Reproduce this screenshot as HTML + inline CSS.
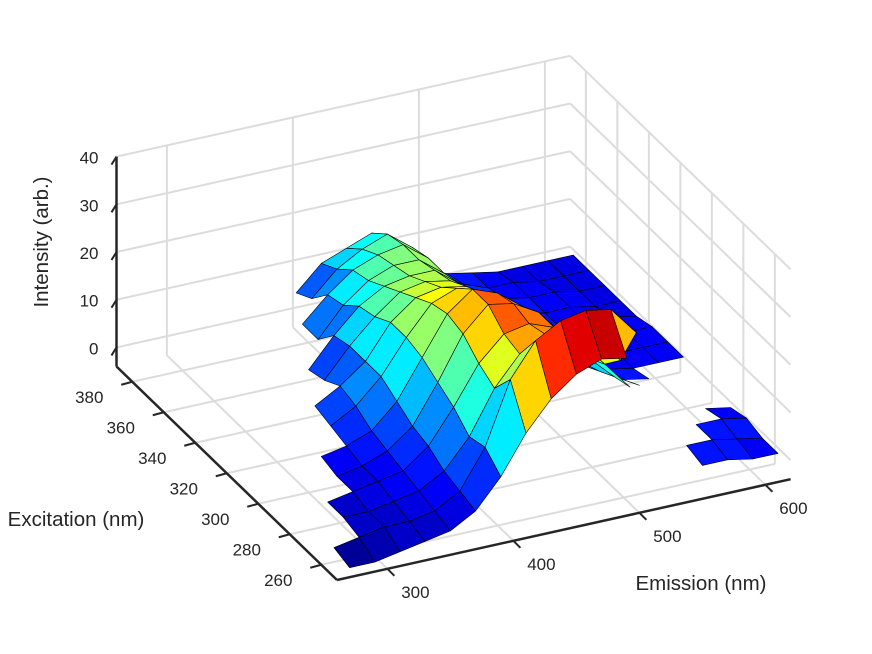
<!DOCTYPE html>
<html>
<head>
<meta charset="utf-8">
<style>
  html, body { margin: 0; padding: 0; background: #ffffff; }
  svg { display: block; }
  text { font-family: "Liberation Sans", Arial, sans-serif; fill: #262626; }
</style>
</head>
<body>
<svg id="chart" width="872" height="654" viewBox="0 0 872 654" xmlns="http://www.w3.org/2000/svg">
  <rect x="0" y="0" width="872" height="654" fill="#ffffff"/>
  <g id="grid"></g>
  <g id="axes"></g>
  <g id="surface"></g>
  <g id="labels"></g>
  <text x="48" y="242" font-size="20.5" text-anchor="middle" transform="rotate(-90 48 242)">Intensity (arb.)</text>
  <text x="76" y="526" font-size="20.5" text-anchor="middle">Excitation (nm)</text>
  <text x="701" y="590" font-size="20.5" text-anchor="middle">Emission (nm)</text>
</svg>
<script>
// ---- data ----
const emission = [270,290,310,330,350,370,390,410,430,450,470,490,510,530,550,570,590,610];
const excitation = [250,260,270,280,290,300,310,320,330,340,350,360,370,380];
const n = null;
const intensity = [
  [-2,-2,-1,0,1,4,10,18,24,28,30,29,n,n,3,3,2,2],
  [-1,0,1,1,2,5,13,26,33,36,37,36,30,n,4,4,3,2],
  [n,1,1,2,3,6,12,21,27,30,29,27,21,n,n,4,4,3],
  [n,1,2,3,4,8,15,23,28,29,27,23,17,11,n,n,3,2],
  [n,n,2,3,5,9,17,26,31,30,27,21,15,10,7,n,n,2],
  [n,n,3,4,6,11,19,27,31,29,25,18,12,8,5,4,n,n],
  [n,n,n,5,8,13,20,26,28,26,21,14,9,6,4,3,3,3],
  [n,n,n,6,9,13,20,24,25,24,19,12,7,5,3,3,3,3],
  [n,n,n,n,7,13,18,22,23,22,18,11,6,4,3,3,3,3],
  [n,n,n,n,6,12,17,20,21,21,17,10,6,4,3,3,3,2],
  [n,n,n,n,n,8,14,18,20,20,16,10,6,4,3,3,2,2],
  [n,n,n,n,n,8,13,17,19,20,16,9,5,4,3,3,2,2],
  [n,n,n,n,n,n,9,14,17,19,15,8,5,3,3,2,2,2],
  [n,n,n,n,n,n,7,12,14,16,12,6,4,3,2,2,2,2]
];
const colorLimits = [-2, 40];
const zTicks = [0,10,20,30,40];
const emTicks = [300,400,500,600];
const exTicks = [260,280,300,320,340,360,380];

// ---- axes / projection ----
const EM0 = 260, EM1 = 620, EX0 = 250, EX1 = 390, ZMIN = -4, ZMAX = 40;
function P(em, ex, z) {
  return [337 + (em - EM0) * 1.26 - (ex - EX0) * 1.575,
          580 - (em - EM0) * 0.28 - (ex - EX0) * 1.525 - (z - ZMIN) * 4.77];
}
const NS = 'http://www.w3.org/2000/svg';
function mk(tag, attrs, parent) {
  const el = document.createElementNS(NS, tag);
  for (const k in attrs) el.setAttribute(k, attrs[k]);
  parent.appendChild(el);
  return el;
}
function line(a, b, stroke, w, parent) {
  return mk('line', {x1: a[0], y1: a[1], x2: b[0], y2: b[1], stroke: stroke, 'stroke-width': w}, parent);
}
const grid = document.getElementById('grid');
const axes = document.getElementById('axes');
const surf = document.getElementById('surface');
const labels = document.getElementById('labels');
const GC = '#dcdcdc';

emTicks.forEach(em => {
  const l = line(P(em, EX0, ZMIN), P(em, EX1, ZMIN), GC, 2, grid);
  
  
  const v = line(P(em, EX1, ZMIN), P(em, EX1, ZMAX), GC, 2, grid);
  
  
});
exTicks.forEach(ex => {
  const l = line(P(EM0, ex, ZMIN), P(EM1, ex, ZMIN), GC, 2, grid);
  
  
  const v = line(P(EM1, ex, ZMIN), P(EM1, ex, ZMAX), GC, 2, grid);
  
  
});
zTicks.forEach(z => {
  const a = line(P(EM0, EX1, z), P(EM1, EX1, z), GC, 2, grid);
  
  
  const b = line(P(EM1, EX0, z), P(EM1, EX1, z), GC, 2, grid);
  
  
});

const AC = '#262626';
const za = line(P(EM0, EX1, ZMIN), P(EM0, EX1, ZMAX), AC, 2.5, axes);


const xa = line(P(EM0, EX0, ZMIN), P(EM0, EX1, ZMIN), AC, 2.5, axes);


const ea = line(P(EM0, EX0, ZMIN), P(EM1, EX0, ZMIN), AC, 2.5, axes);



zTicks.forEach(z => {
  const p = P(EM0, EX1, z);
  const t = line(p, [p[0] - 5, p[1] + 8], AC, 2, axes);
  
  
  const tx = mk('text', {x: p[0] - 18, y: p[1] + 7, 'font-size': 17, 'text-anchor': 'end'}, labels);
  tx.textContent = z;
  
  
});
exTicks.forEach(ex => {
  const p = P(EM0, ex, ZMIN);
  const t = line(p, [p[0] - 11, p[1] + 3], AC, 2, axes);
  
  
  const tx = mk('text', {x: p[0] - 43, y: p[1] + 21, 'font-size': 17, 'text-anchor': 'middle'}, labels);
  tx.textContent = ex;
  
  
});
emTicks.forEach(em => {
  const p = P(em, EX0, ZMIN);
  const t = line(p, [p[0] + 7, p[1] + 7], AC, 2, axes);
  
  
  const tx = mk('text', {x: p[0] + 28, y: p[1] + 29, 'font-size': 17, 'text-anchor': 'middle'}, labels);
  tx.textContent = em;
  
  
});

// ---- surface ----
const vmin = colorLimits[0], vmax = colorLimits[1];
function jet(t) {
  const c = x => Math.round(255 * Math.max(0, Math.min(1, x)));
  return 'rgb(' + c(1.5 - Math.abs(4 * t - 3)) + ',' + c(1.5 - Math.abs(4 * t - 2)) + ',' + c(1.5 - Math.abs(4 * t - 1)) + ')';
}
const faces = [];
for (let i = 0; i < excitation.length - 1; i++) {
  for (let j = 0; j < emission.length - 1; j++) {
    const a = intensity[i][j], b = intensity[i][j + 1], c = intensity[i + 1][j + 1], d = intensity[i + 1][j];
    if (a === null || b === null || c === null || d === null) continue;
    const pts = [P(emission[j], excitation[i], a), P(emission[j + 1], excitation[i], b),
                 P(emission[j + 1], excitation[i + 1], c), P(emission[j], excitation[i + 1], d)];
    const emc = (emission[j] + emission[j + 1]) / 2, exc = (excitation[i] + excitation[i + 1]) / 2;
    faces.push({pts: pts, depth: 0.28 * emc + 0.7625 * exc, col: jet((d - vmin) / (vmax - vmin))});
  }
}
faces.sort((f, g) => g.depth - f.depth);
faces.forEach(f => {
  const poly = mk('polygon', {points: f.pts.map(p => p[0].toFixed(1) + ',' + p[1].toFixed(1)).join(' '),
    fill: f.col, stroke: '#000', 'stroke-width': 0.6, 'stroke-linejoin': 'round'}, surf);
  
  
});
</script>
</body>
</html>
